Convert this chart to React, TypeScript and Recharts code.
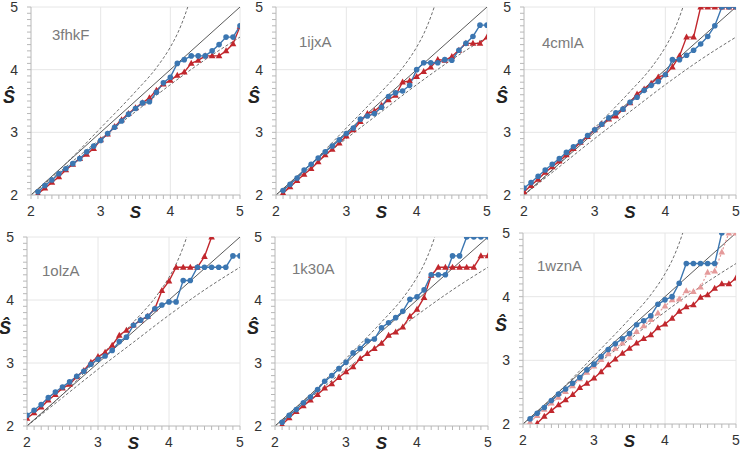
import { LineChart, Line, XAxis, YAxis, ReferenceLine } from 'recharts'

// x positions of the estimates (S)
const S_VALUES = [
  2.0, 2.1, 2.2, 2.3, 2.4, 2.5, 2.6, 2.7, 2.8, 2.9,
  3.0, 3.1, 3.2, 3.3, 3.4, 3.5, 3.6, 3.7, 3.8, 3.9,
  4.0, 4.1, 4.2, 4.3, 4.4, 4.5, 4.6, 4.7, 4.8, 4.9,
  5.0
]

const MAJOR_TICKS = [2, 3, 4, 5]
const GRID_VALUES = [3, 4, 5]

const PANEL_NAMES = ['3fhkF', '1ijxA', '4cmlA', '1olzA', '1k30A', '1wznA']

// reference curves
const DIAGONAL_S = [2, 5]
const DIAGONAL_V = [2, 5]
const UPPER_S = [2, 2.5, 3, 3.5, 3.8, 4, 4.1, 4.2, 4.25]
const UPPER_V = [2, 2.5, 3.07, 3.65, 4.03, 4.36, 4.57, 4.84, 5.0]
const LOWER_S = [2, 2.5, 3, 3.5, 4, 4.5, 5]
const LOWER_V = [2, 2.45, 2.9, 3.33, 3.76, 4.16, 4.52]

const BLUE_3FHKF = [null, 2.05, 2.15, 2.24, 2.34, 2.42, 2.50, 2.58, 2.69, 2.78,
  2.87, 2.98, 3.08, 3.18, 3.29, 3.38, 3.47, 3.49, 3.64, 3.79,
  3.88, 4.10, 4.16, 4.22, 4.22, 4.22, 4.30, 4.40, 4.52, 4.52, 4.70]
const RED_3FHKF = [null, 2.02, 2.11, 2.20, 2.29, 2.40, 2.49, 2.58, 2.65, 2.74,
  2.88, 2.97, 3.09, 3.20, 3.30, 3.39, 3.47, 3.55, 3.67, 3.77,
  3.83, 3.91, 3.96, 4.10, 4.15, 4.22, 4.22, 4.22, 4.30, 4.41, 4.69]

const BLUE_1IJXA = [null, 2.07, 2.17, 2.27, 2.40, 2.49, 2.59, 2.69, 2.78, 2.88,
  2.98, 3.07, 3.21, 3.26, 3.30, 3.40, 3.57, 3.63, 3.66, 3.75,
  4.00, 4.11, 4.11, 4.11, 4.16, 4.15, 4.31, 4.42, 4.53, 4.71, 4.71]
const RED_1IJXA = [null, 2.03, 2.13, 2.23, 2.33, 2.42, 2.53, 2.64, 2.73, 2.83,
  2.94, 3.04, 3.17, 3.30, 3.34, 3.43, 3.52, 3.59, 3.80, 3.82,
  3.89, 3.97, 4.04, 4.16, 4.15, 4.21, 4.31, 4.42, 4.42, 4.42, 4.52]

const BLUE_4CMLA = [2.11, 2.20, 2.30, 2.40, 2.49, 2.58, 2.68, 2.77, 2.85, 2.95,
  3.04, 3.13, 3.23, 3.31, 3.37, 3.48, 3.56, 3.67, 3.75, 3.81,
  3.92, 4.16, 4.16, 4.23, 4.31, 4.41, 4.53, 4.70, 5.0, 5.0, 5.0]
const RED_4CMLA = [2.05, 2.15, 2.25, 2.36, 2.45, 2.54, 2.64, 2.74, 2.84, 2.93,
  3.04, 3.13, 3.21, 3.26, 3.37, 3.47, 3.61, 3.69, 3.78, 3.88,
  3.92, 4.04, 4.22, 4.52, 4.52, 5.0, 5.0, 5.0, 5.0, 5.0, 5.0]

const BLUE_1OLZA = [2.17, 2.25, 2.34, 2.45, 2.54, 2.62, 2.70, 2.79, 2.87, 2.98,
  3.06, 3.11, 3.20, 3.34, 3.41, 3.60, 3.68, 3.74, 3.86, 3.92,
  3.97, 3.97, 4.31, 4.31, 4.52, 4.52, 4.52, 4.52, 4.52, 4.70, 4.70]
const RED_1OLZA = [2.12, 2.21, 2.30, 2.41, 2.50, 2.60, 2.66, 2.78, 2.88, 3.01,
  3.10, 3.17, 3.28, 3.44, 3.52, 3.60, 3.68, 3.74, 3.86, 4.15,
  4.30, 4.52, 4.52, 4.52, 4.52, 4.69, 5.0, null, null, null, null]

const BLUE_1K30A = [null, 2.06, 2.17, 2.26, 2.37, 2.46, 2.58, 2.71, 2.80, 2.91,
  3.01, 3.16, 3.23, 3.35, 3.38, 3.56, 3.64, 3.72, 3.82, 4.01,
  4.05, 4.16, 4.40, 4.40, 4.40, 4.70, 4.70, 5.0, 5.0, 5.0, 5.0]
const RED_1K30A = [null, 2.02, 2.13, 2.23, 2.32, 2.41, 2.50, 2.60, 2.67, 2.77,
  2.86, 2.94, 3.07, 3.15, 3.23, 3.31, 3.44, 3.49, 3.57, 3.74,
  3.85, 4.04, 4.39, 4.52, 4.52, 4.52, 4.52, 4.52, 4.52, 4.70, 4.70]

const BLUE_1WZNA = [null, 2.08, 2.17, 2.26, 2.37, 2.47, 2.55, 2.64, 2.73, 2.85,
  2.94, 3.06, 3.17, 3.26, 3.34, 3.42, 3.56, 3.62, 3.70, 3.88,
  3.95, 4.00, 4.21, 4.52, 4.52, 4.52, 4.52, 4.52, 5.0, null, null]
const RED_1WZNA = [null, null, 2.01, 2.12, 2.21, 2.30, 2.38, 2.46, 2.57, 2.64,
  2.72, 2.82, 2.93, 3.02, 3.11, 3.19, 3.27, 3.34, 3.40, 3.51,
  3.57, 3.66, 3.77, 3.84, 3.87, 3.99, 4.03, 4.13, 4.20, 4.20, 4.29]
const PINK_1WZNA = [null, 2.03, 2.13, 2.23, 2.33, 2.42, 2.51, 2.60, 2.71, 2.81,
  2.91, 3.01, 3.10, 3.19, 3.27, 3.36, 3.45, 3.54, 3.64, 3.74,
  3.85, 3.95, 3.96, 4.09, 4.08, 4.15, 4.38, 4.40, 4.70, 5.0, 5.0]

const SERIES = [
  { blue: BLUE_3FHKF, red: RED_3FHKF, pink: null },
  { blue: BLUE_1IJXA, red: RED_1IJXA, pink: null },
  { blue: BLUE_4CMLA, red: RED_4CMLA, pink: null },
  { blue: BLUE_1OLZA, red: RED_1OLZA, pink: null },
  { blue: BLUE_1K30A, red: RED_1K30A, pink: null },
  { blue: BLUE_1WZNA, red: RED_1WZNA, pink: PINK_1WZNA }
]

// plot boxes in page pixels, and where the panel name sits
const LAYOUT = [
  { x: 31, y: 7, w: 209, h: 188, nameX: 52, nameY: 40 },
  { x: 276, y: 7, w: 211, h: 188, nameX: 299, nameY: 47 },
  { x: 524, y: 7, w: 212, h: 188, nameX: 542, nameY: 48 },
  { x: 27, y: 237, w: 213, h: 189, nameX: 42, nameY: 276 },
  { x: 275, y: 237, w: 213, h: 189, nameX: 292, nameY: 274 },
  { x: 523, y: 233, w: 213, h: 191, nameX: 537, nameY: 271 }
]

const FONT = '"Liberation Sans", Arial, sans-serif'
const BLUE = '#3b76b1'
const RED = '#c1272d'
const PINK = '#e59a9a'
const AXIS = '#b8b8b8'
const GRID = '#e6e6e6'
const Y_AXIS_W = 30
const X_AXIS_H = 26
const TOP = 12
const RIGHT = 5

const toPoints = (xs: number[], vs: number[]) => xs.map((s, i) => ({ s, v: vs[i] }))

const isMajor = (v: number) => MAJOR_TICKS.some((t) => Math.abs(t - v) < 1e-6)

const XTick = (props: any) => {
  const { x, y, payload, index } = props
  if (!isMajor(payload.value)) return <g key={`xt-${index}`} />
  return (
    <text key={`xt-${index}`} x={x} y={y + 17} textAnchor="middle" fontSize={14} fill="#333" fontFamily={FONT}>
      {Math.round(payload.value)}
    </text>
  )
}

const YTick = (props: any) => {
  const { x, y, payload, index } = props
  if (!isMajor(payload.value)) return <g key={`yt-${index}`} />
  return (
    <text key={`yt-${index}`} x={x - 9} y={y + 5} textAnchor="end" fontSize={14} fill="#333" fontFamily={FONT}>
      {Math.round(payload.value)}
    </text>
  )
}

const circleDot = (color: string) => (props: any) => {
  const { cx, cy, index, value } = props
  if (value == null || cx == null || cy == null) return <g key={`c-${index}`} />
  return <circle key={`c-${index}`} cx={cx} cy={cy} r={2.8} fill={color} stroke="none" />
}

const triangleDot = (color: string) => (props: any) => {
  const { cx, cy, index, value } = props
  if (value == null || cx == null || cy == null) return <g key={`t-${index}`} />
  return (
    <path
      key={`t-${index}`}
      d={`M${cx},${cy - 3.6}L${cx + 3.3},${cy + 2.4}L${cx - 3.3},${cy + 2.4}Z`}
      fill={color}
      stroke="none"
    />
  )
}

function Panel({ index }: { index: number }) {
  const box = LAYOUT[index]
  const series = SERIES[index]
  const width = Y_AXIS_W + box.w + RIGHT
  const height = TOP + box.h + X_AXIS_H

  const rows = S_VALUES.map((s, i) => ({
    s,
    blue: series.blue[i],
    red: series.red[i],
    pink: series.pink ? series.pink[i] : null
  }))

  return (
    <>
      <div style={{ position: 'absolute', left: box.x - Y_AXIS_W, top: box.y - TOP }}>
        <LineChart width={width} height={height} data={rows} margin={{ top: TOP, right: RIGHT, bottom: 0, left: 0 }}>
          <XAxis
            type="number"
            dataKey="s"
            domain={[2, 5]}
            ticks={S_VALUES}
            interval={0}
            allowDataOverflow
            height={X_AXIS_H}
            tickSize={4}
            tickMargin={0}
            stroke={AXIS}
            tickLine={{ stroke: AXIS }}
            tick={XTick}
            label={{
              content: () => (
                <text
                  x={Y_AXIS_W + box.w / 2}
                  y={TOP + box.h + 23}
                  textAnchor="middle"
                  fontSize={17}
                  fontWeight="bold"
                  fontStyle="italic"
                  fill="#222"
                  fontFamily={FONT}
                >
                  S
                </text>
              )
            }}
          />
          <YAxis
            type="number"
            domain={[2, 5]}
            ticks={S_VALUES}
            interval={0}
            allowDataOverflow
            width={Y_AXIS_W}
            tickSize={4}
            tickMargin={0}
            stroke={AXIS}
            tickLine={{ stroke: AXIS }}
            tick={YTick}
            label={{
              content: () => (
                <text
                  x={Y_AXIS_W - 22}
                  y={TOP + box.h / 2 + 2}
                  textAnchor="middle"
                  fontSize={18}
                  fontWeight="bold"
                  fontStyle="italic"
                  fill="#222"
                  fontFamily={FONT}
                >
                  Ŝ
                </text>
              )
            }}
          />
          {GRID_VALUES.map((g) => (
            <ReferenceLine key={`gx-${g}`} x={g} stroke={GRID} strokeWidth={1} />
          ))}
          {GRID_VALUES.map((g) => (
            <ReferenceLine key={`gy-${g}`} y={g} stroke={GRID} strokeWidth={1} />
          ))}
          <Line
            data={toPoints(UPPER_S, UPPER_V)}
            dataKey="v"
            type="monotone"
            stroke="#6e6e6e"
            strokeWidth={1}
            strokeDasharray="3 2"
            dot={false}
            isAnimationActive={false}
          />
          <Line
            data={toPoints(LOWER_S, LOWER_V)}
            dataKey="v"
            type="monotone"
            stroke="#6e6e6e"
            strokeWidth={1}
            strokeDasharray="3 2"
            dot={false}
            isAnimationActive={false}
          />
          <Line
            data={toPoints(DIAGONAL_S, DIAGONAL_V)}
            dataKey="v"
            type="linear"
            stroke="#5a5a5a"
            strokeWidth={1}
            dot={false}
            isAnimationActive={false}
          />
          {series.pink && (
            <Line
              dataKey="pink"
              type="linear"
              stroke={PINK}
              strokeWidth={1.2}
              strokeDasharray="2 2"
              dot={triangleDot(PINK)}
              isAnimationActive={false}
            />
          )}
          <Line
            dataKey="red"
            type="linear"
            stroke={RED}
            strokeWidth={1.4}
            dot={triangleDot(RED)}
            isAnimationActive={false}
          />
          <Line
            dataKey="blue"
            type="linear"
            stroke={BLUE}
            strokeWidth={1.4}
            dot={circleDot(BLUE)}
            isAnimationActive={false}
          />
        </LineChart>
      </div>
      <div
        style={{
          position: 'absolute',
          left: box.nameX,
          top: box.nameY - 12.7,
          fontFamily: FONT,
          fontSize: 15,
          lineHeight: '15px',
          color: '#7a7a7a',
          whiteSpace: 'nowrap'
        }}
      >
        {PANEL_NAMES[index]}
      </div>
    </>
  )
}

export default function App() {
  return (
    <div
      style={{
        position: 'absolute',
        left: 0,
        top: 0,
        width: 740,
        height: 452,
        overflow: 'hidden',
        background: '#fff'
      }}
    >
      {PANEL_NAMES.map((name, i) => (
        <Panel key={name} index={i} />
      ))}
    </div>
  )
}
